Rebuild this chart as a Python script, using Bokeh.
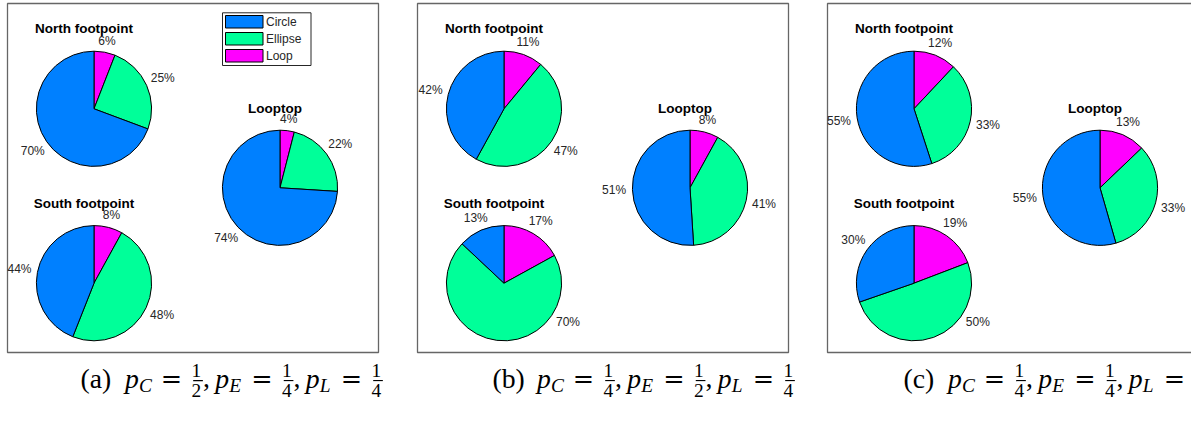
import math
from bokeh.plotting import figure
from bokeh.models import Range1d, ColumnDataSource
from bokeh.core.properties import value
from bokeh.embed import file_html
from bokeh.resources import INLINE

# ---------------- data ----------------
categories = ["Circle", "Ellipse", "Loop"]
regions = ["North footpoint", "South footpoint", "Looptop"]
panel_tags = ["(a)", "(b)", "(c)"]

# percentages per region, in category order [Circle, Ellipse, Loop]
a_north = [70, 25, 6]
a_south = [44, 48, 8]
a_looptop = [74, 22, 4]
b_north = [42, 47, 11]
b_south = [13, 70, 17]
b_looptop = [51, 41, 8]
c_north = [55, 33, 12]
c_south = [30, 50, 19]
c_looptop = [55, 33, 13]

panels = [
    [a_north, a_south, a_looptop],
    [b_north, b_south, b_looptop],
    [c_north, c_south, c_looptop],
]

# caption: p_C = n/d, p_E = n/d, p_L = n/d
cap_subs = ["C", "E", "L"]
cap_num = [[1, 1, 1], [1, 1, 1], [1, 1, 1]]
cap_den = [[2, 4, 4], [4, 2, 4], [4, 4, 2]]

# ---------------- style / layout ----------------
colors = ["#0080ff", "#00ff99", "#ff00ff"]
slice_order = [2, 1, 0]           # clockwise from 12 o'clock: Loop, Ellipse, Circle
SANS = "Liberation Sans"
SERIF = "Liberation Serif"
W, H = 1191, 421
R = 57.6
MID_SANS = 0.3465    # em offset baseline -> middle
MID_SERIF = 0.3375

p = figure(width=W, height=H, x_range=Range1d(0, W), y_range=Range1d(0, H),
           output_backend="svg", toolbar_location=None, min_border=0,
           background_fill_color="white", border_fill_color="white")
p.outline_line_color = None
p.xaxis.visible = False
p.yaxis.visible = False
p.xgrid.visible = False
p.ygrid.visible = False


def Y(sy):
    return H - sy


box_left = [7, 417, 827]
box_w = 371
box_top = 3
box_bottom = 352
cap_dx = [73, 75, 76]

# panel frames
p.quad(left=box_left, right=[l + box_w for l in box_left],
       top=[Y(box_top)] * 3, bottom=[Y(box_bottom)] * 3,
       fill_color=None, line_color="#666666", line_width=1.3)

pie_offsets = [(86.5, 108.3), (86.5, 282.7), (272.5, 187.3)]   # North, South, Looptop
title_dx = [-10, -10, -5]
title_base = [32.7, 207.5, 112.7]


def draw_pie(cx, cy, vals, bottom_limit):
    total = float(sum(vals))
    c = 0.0
    src = dict(x=[], y=[], s=[], e=[], col=[])
    lx, ly, lt = [], [], []
    for k in slice_order:
        f0 = c / total
        c += vals[k]
        f1 = c / total
        src["x"].append(cx)
        src["y"].append(Y(cy))
        src["s"].append(math.pi / 2 - 2 * math.pi * f1)
        src["e"].append(math.pi / 2 - 2 * math.pi * f0)
        src["col"].append(colors[k])
        th = 180.0 * (f0 + f1)     # mid angle, degrees clockwise from top
        lo = 360.0 * f0

        def pos(t):
            r = math.radians(t)
            d = 68 + 8 * abs(math.sin(r))
            return cx + d * math.sin(r), cy - d * math.cos(r)

        x, y = pos(th)
        while y > bottom_limit and th > lo:
            th -= 0.5
            x, y = pos(th)
        lx.append(x)
        ly.append(Y(y))
        lt.append("%d%%" % vals[k])
    p.wedge(x="x", y="y", radius=R, radius_units="screen", start_angle="s", end_angle="e",
            fill_color="col", line_color="black", line_width=1, source=ColumnDataSource(src))
    p.text(x=lx, y=ly, text=lt, text_font=value(SANS), text_font_size="12px",
           text_color="#262626", text_align="center", text_baseline="middle")


for i, pan in enumerate(panels):
    L = box_left[i]
    for j, vals in enumerate(pan):
        cx = L + pie_offsets[j][0]
        cy = pie_offsets[j][1]
        draw_pie(cx, cy, vals, box_bottom - 30)
        p.text(x=[cx + title_dx[j]], y=[Y(title_base[j] - MID_SANS * 13.5)], text=[regions[j]],
               text_font=value(SANS), text_font_size="13.5px", text_font_style="bold",
               text_color="black", text_align="center", text_baseline="middle")

# legend (panel a)
lg_l, lg_r, lg_t, lg_b = 222, 310.5, 12.3, 65
p.quad(left=[lg_l], right=[lg_r], top=[Y(lg_t)], bottom=[Y(lg_b)],
       fill_color="white", line_color="#262626", line_width=1)
sw_top = [15, 32, 49]
sw_h = 12.5
p.quad(left=[225] * 3, right=[262.5] * 3, top=[Y(t) for t in sw_top],
       bottom=[Y(t + sw_h) for t in sw_top], fill_color=colors,
       line_color="black", line_width=1)
p.text(x=[265.5] * 3, y=[Y(t + sw_h / 2 + 0.3) for t in sw_top], text=categories,
       text_font=value(SANS), text_font_size="12px", text_color="#262626",
       text_align="left", text_baseline="middle")

# captions (TeX-like layout, em units of size s)
s = 27.7
b = 387.0
sub_w = {"C": 0.5, "E": 0.517, "L": 0.477}
for i in range(3):
    x0 = box_left[i] + cap_dx[i]
    tx, ty, tt, tsz, tfont, tstyle, talign = [], [], [], [], [], [], []

    def put(xe, base, txt, size, font, style, align):
        tx.append(x0 + xe * s)
        ty.append(Y(base - MID_SERIF * size))
        tt.append(txt)
        tsz.append("%.1fpx" % size)
        tfont.append(font)
        tstyle.append(style)
        talign.append(align)

    put(0, b, panel_tags[i], s, SERIF, "normal", "left")
    pos = 1.611
    bars = []
    for j in range(3):
        put(pos, b, "p", s, SERIF, "italic", "left")
        pos += 0.503
        put(pos, b + 0.15 * s, cap_subs[j], 0.7 * s, SERIF, "italic", "left")
        pos += sub_w[cap_subs[j]] + 0.278
        put(pos + 0.389, b, "=", s * 0.92, "DejaVu Serif", "normal", "center")
        pos += 0.778 + 0.278
        fc = pos + 0.235
        put(fc, b - 0.394 * s, str(cap_num[i][j]), 0.7 * s, SERIF, "normal", "center")
        put(fc, b + 0.344 * s, str(cap_den[i][j]), 0.7 * s, SERIF, "normal", "center")
        bars.append((x0 + (pos + 0.12) * s, x0 + (pos + 0.47) * s))
        pos += 0.47
        if j < 2:
            put(pos, b, ",", s, SERIF, "normal", "left")
            pos += 0.278 + 0.167
    src = ColumnDataSource(dict(x=tx, y=ty, t=tt, sz=tsz, f=tfont, st=tstyle, al=talign))
    p.text(x="x", y="y", text="t", text_font_size="sz", text_font="f", text_font_style="st",
           text_align="al", text_baseline="middle", text_color="black", source=src)
    p.segment(x0=[a for a, _ in bars], x1=[c for _, c in bars],
              y0=[Y(b - 0.25 * s)] * 3, y1=[Y(b - 0.25 * s)] * 3,
              line_color="black", line_width=1.1)

open("out.html", "w").write(file_html(p, INLINE))
